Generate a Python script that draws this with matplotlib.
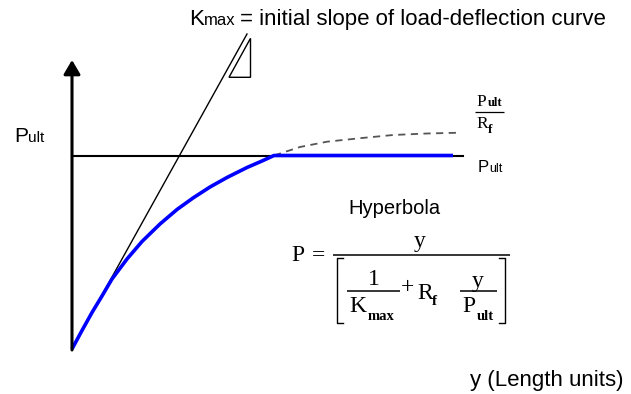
import matplotlib.pyplot as plt
from matplotlib.patches import Polygon

SANS = 'Liberation Sans'
SERIF = 'Liberation Serif'

# load-deflection curve (deflection, load), drawing units
defl = [0, 10, 20, 30, 40, 55, 70, 88, 105, 121, 138, 155, 175, 190, 202]
load = [0, 18.5, 36.5, 53, 70, 90, 107.5, 125, 139.5, 151, 162, 171.5, 181.5, 188, 193.5]

# hyperbola continued past P_ult (dashed, toward P_ult / R_f)
defl_ext = [202, 228, 255, 290, 321, 355, 388]
load_ext = [193.5, 202, 207.3, 211, 214, 215.5, 216.3]

p_ult = 193.5
plateau_end = 381       # end of the blue plateau
p_ult_line_end = 391    # end of the black P_ult line
k_max = 1.8             # initial slope
tangent_end = 175

fig = plt.figure(figsize=(6.31, 3.94), dpi=100)
ax = fig.add_axes([0, 0, 1, 1])
ax.set_xlim(-72, 559)
ax.set_ylim(-45, 349)
ax.axis('off')


def txt(x, y, s, size, family=SERIF, **kw):
    return ax.text(x, y, s, fontsize=size, family=family, va='baseline', **kw)


def hline(x0, x1, y, lw=1.1):
    ax.plot([x0, x1], [y, y], color='black', lw=lw, solid_capstyle='butt')


# P_ult level
ax.plot([0, p_ult_line_end], [p_ult, p_ult], color='black', lw=1.5)

# dashed asymptotic branch
ax.plot(defl_ext, load_ext, color='#555555', lw=1.3, linestyle=(0, (4, 3)))

# hyperbola up to P_ult, then flat
ax.plot(defl + [plateau_end], load + [p_ult], color='#0000ff', lw=2.6,
        solid_capstyle='butt', zorder=3)

# initial tangent K_max
ax.plot([0, tangent_end], [0, k_max * tangent_end], color='black', lw=1.0)
ax.add_patch(Polygon([(157, 271.7), (178.5, 271.7), (178.5, 310.7)],
                     closed=True, fill=False, lw=1.0, edgecolor='black'))

# axes with arrow heads
arrow = dict(arrowstyle='-|>,head_length=0.85,head_width=0.5', lw=2.2,
             color='black', mutation_scale=10, shrinkA=0, shrinkB=0)
ax.annotate('', xy=(568, 0), xytext=(-1, 0), arrowprops=arrow)
ax.annotate('', xy=(0, 289), xytext=(0, -1), arrowprops=arrow)

# title line: K + small "max" + rest
txt(117, 324, 'K', 16, SANS)
txt(132, 324, 'max', 12, SANS)
txt(168, 324, '= initial slope of load-deflection curve', 16, SANS)

# P_ult on the load axis
txt(-58, 207.3, 'P', 15, SANS)
txt(-44, 207.3, 'ult', 11, SANS)

# P_ult at the right end of the plateau
txt(406, 177.3, 'P', 12, SANS)
txt(417.5, 177.3, 'ult', 9, SANS)

# P_ult / R_f asymptote
txt(404.7, 243, 'P', 12.5)
txt(415.5, 243, 'ult', 9, weight='bold')
hline(403, 432, 236.7, lw=0.9)
txt(404.7, 220.7, 'R', 12.5)
txt(416, 216, 'f', 9.5, weight='bold')

# hyperbola equation
txt(322, 134.7, 'Hyperbola', 14.5, SANS, ha='center')
txt(219.7, 88, 'P', 17)
txt(246.5, 88, '=', 17, ha='center')
hline(261, 438, 94)
txt(348, 102, 'y', 17, ha='center')

# brackets around the denominator
for xb, xs in [(265, 271), (433, 427)]:
    ax.plot([xs, xb, xb, xs], [91, 91, 26, 26], color='black', lw=1.0)

txt(301.5, 64, '1', 17, ha='center')
hline(275, 328, 58)
txt(277, 37, 'K', 17)
txt(295.5, 29, 'max', 10.5, weight='bold')
txt(335.5, 56, '+', 17, ha='center')
txt(345, 50, 'R', 17)
txt(359.5, 44, 'f', 11, weight='bold')
txt(406, 62, 'y', 17, ha='center')
hline(388, 425, 58)
txt(390.5, 37, 'P', 17)
txt(404.5, 29, 'ult', 10.5, weight='bold')

# deflection axis label
txt(398, -37, 'y (Length units)', 16, SANS)

fig.savefig('out.png', dpi=100)
